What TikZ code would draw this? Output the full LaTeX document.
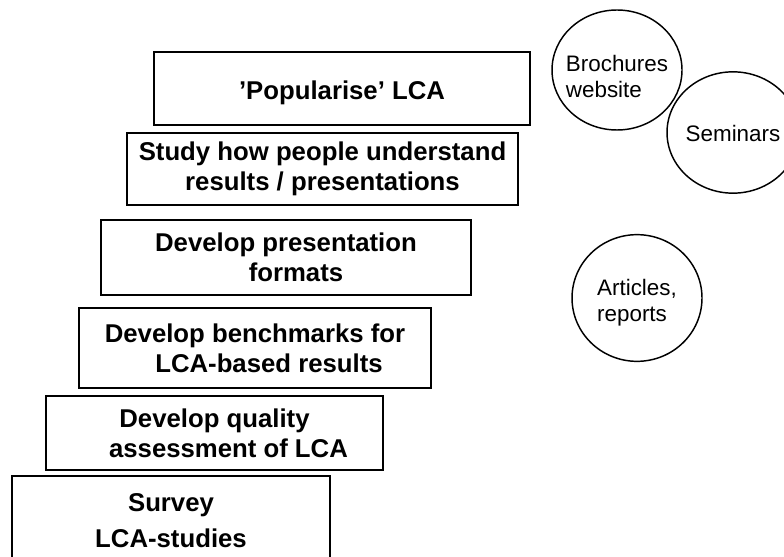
\documentclass[tikz,border=0pt]{standalone}
\usepackage{fontspec}
\setmainfont{Liberation Sans}
\usetikzlibrary{shapes.geometric}

\tikzset{
  stepbox/.style={draw, line width=1.5pt, inner sep=0pt, align=center,
    font=\fontsize{19.3}{22.5}\selectfont\bfseries},
  bubble/.style={draw, ellipse, line width=1.1pt, inner sep=0pt},
  bubtext/.style={inner sep=0pt, align=left, font=\fontsize{16.8}{19.5}\selectfont},
}

\begin{document}
\begin{tikzpicture}[x=0.75pt,y=0.75pt,yscale=-1,xscale=1]
\path[use as bounding box, clip] (0,0) rectangle (784,556);

% Steps
\node [stepbox, minimum width=282pt, minimum height=54.75pt] (popular) at (342,88.5) {\raisebox{-8.5pt}[0pt][0pt]{'Popularise' LCA}};
\node [stepbox, minimum width=293.25pt, minimum height=54pt] (study) at (322.5,169) {Study how people understand\\ results / presentations};
\node [stepbox, minimum width=277.5pt, minimum height=56.25pt] (formats) at (286,257.5) {Develop presentation\\ \hspace*{15pt}formats};
\node [stepbox, minimum width=264pt, minimum height=60pt] (bench) at (255,348) {Develop benchmarks for\\ \hspace*{21pt}LCA-based results};
\node [stepbox, minimum width=252.75pt, minimum height=55.5pt] (quality) at (214.5,433) {Develop quality\\ \hspace*{21pt}assessment of LCA};
\node [stepbox, minimum width=238.5pt, minimum height=66.75pt, font=\fontsize{19.3}{27.5}\selectfont\bfseries] (survey) at (171,520.5) {Survey\\ LCA-studies};

% Channels
\node [bubble, minimum width=97.5pt, minimum height=90pt] (brochures) at (617,70) {};
\node [bubble, minimum width=99pt, minimum height=91pt] (seminars) at (733,132.5) {};
\node [bubble, minimum width=97.5pt, minimum height=95pt] (articles) at (637,298) {};

% Text Node
\node [bubtext] (brochures-txt) at ([yshift=4.5pt]brochures.center) {Brochures\\website};
\node [bubtext] (seminars-txt) at ([yshift=1pt]seminars.center) {Seminars};
\node [bubtext] (articles-txt) at ([yshift=3.5pt]articles.center) {Articles,\\reports};
\end{tikzpicture}
\end{document}
